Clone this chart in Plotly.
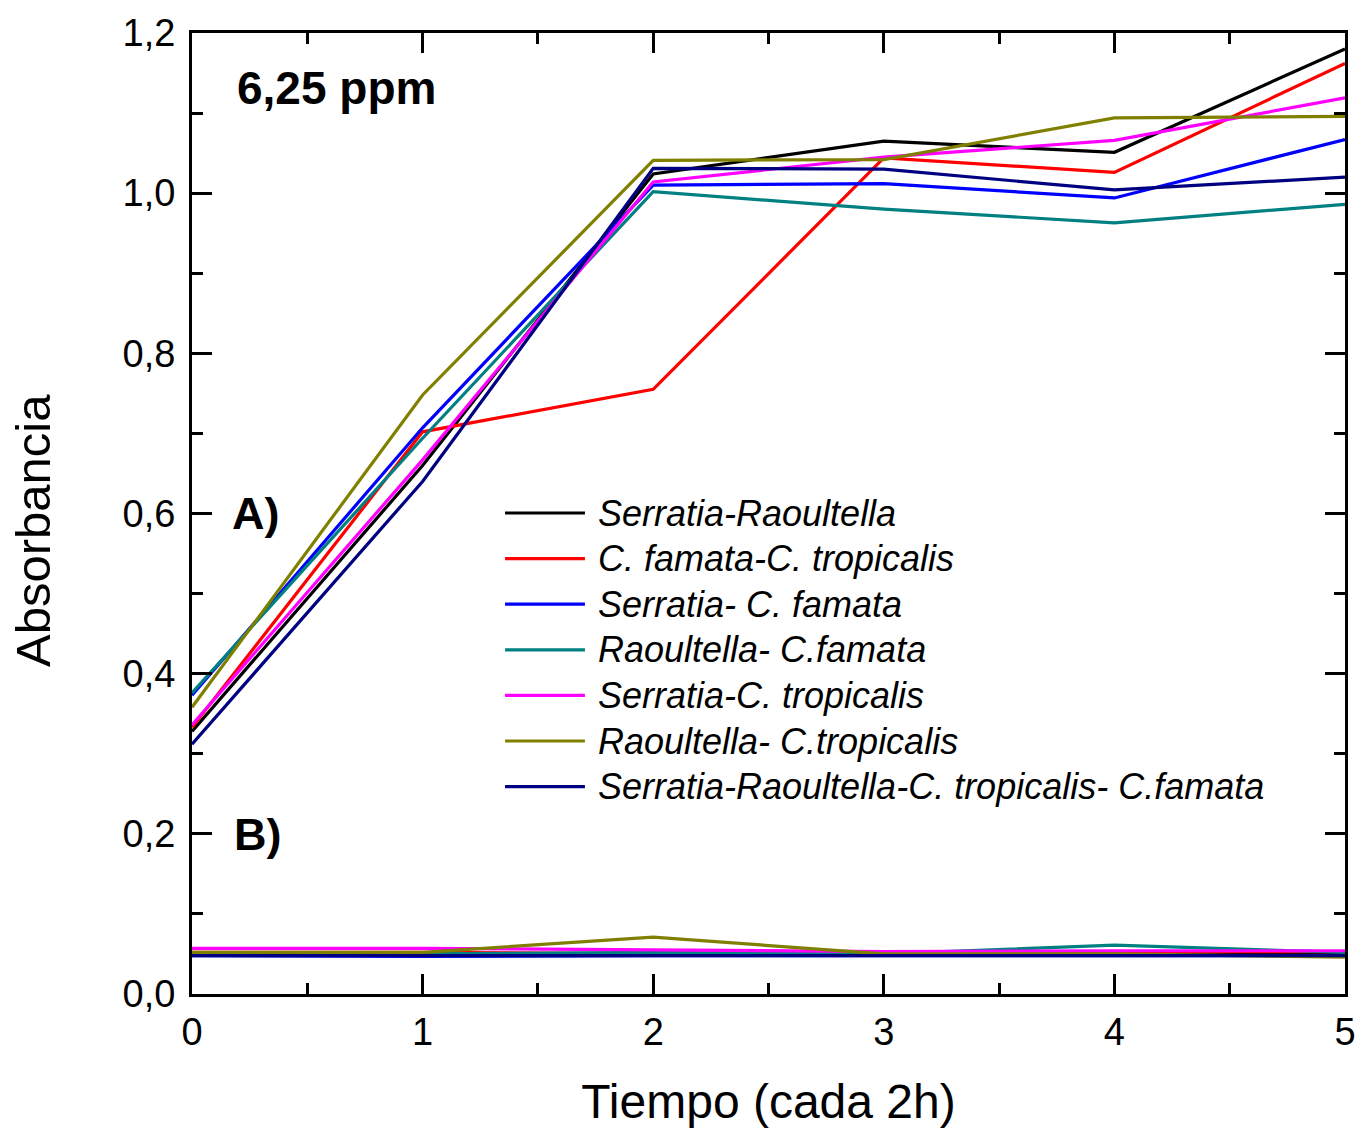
import plotly.graph_objects as go

# ---------------- data ----------------
tiempo = [0, 1, 2, 3, 4, 5]

series_names = [
    "Serratia-Raoultella",
    "C. famata-C. tropicalis",
    "Serratia- C. famata",
    "Raoultella- C.famata",
    "Serratia-C. tropicalis",
    "Raoultella- C.tropicalis",
    "Serratia-Raoultella-C. tropicalis- C.famata",
]
series_colors = ["#000000", "#FF0000", "#0000FF", "#008080", "#FF00FF", "#808000", "#000080"]

# A) curves
a_serr_raou = [0.328, 0.660, 1.024, 1.065, 1.051, 1.180]
a_cfam_ctro = [0.333, 0.702, 0.755, 1.044, 1.026, 1.162]
a_serr_cfam = [0.373, 0.707, 1.010, 1.012, 0.994, 1.067]
a_raou_cfam = [0.376, 0.694, 1.002, 0.980, 0.963, 0.986]
a_serr_ctro = [0.336, 0.667, 1.014, 1.045, 1.066, 1.119]
a_raou_ctro = [0.358, 0.748, 1.041, 1.042, 1.094, 1.096]
a_all = [0.312, 0.640, 1.031, 1.030, 1.004, 1.020]

# B) curves
b_serr_raou = [0.050, 0.050, 0.050, 0.050, 0.052, 0.050]
b_cfam_ctro = [0.052, 0.052, 0.050, 0.052, 0.053, 0.053]
b_serr_cfam = [0.048, 0.047, 0.048, 0.048, 0.048, 0.048]
b_raou_cfam = [0.050, 0.050, 0.052, 0.050, 0.061, 0.052]
b_serr_ctro = [0.057, 0.057, 0.055, 0.053, 0.054, 0.054]
b_raou_ctro = [0.052, 0.052, 0.071, 0.050, 0.050, 0.046]
b_all = [0.048, 0.048, 0.048, 0.048, 0.048, 0.048]

series_a = [a_serr_raou, a_cfam_ctro, a_serr_cfam, a_raou_cfam, a_serr_ctro, a_raou_ctro, a_all]
series_b = [b_serr_raou, b_cfam_ctro, b_serr_cfam, b_raou_cfam, b_serr_ctro, b_raou_ctro, b_all]

y_ticks = [0.0, 0.2, 0.4, 0.6, 0.8, 1.0, 1.2]
x_ticks = [0, 1, 2, 3, 4, 5]

# ---------------- figure ----------------
fig = go.Figure()
for name, col, ys in zip(series_names, series_colors, series_b):
    fig.add_trace(go.Scatter(x=tiempo, y=ys, mode="lines", name=name + " (B)",
                             line=dict(color=col, width=3.2), showlegend=False))
for name, col, ys in zip(series_names, series_colors, series_a):
    fig.add_trace(go.Scatter(x=tiempo, y=ys, mode="lines", name=name,
                             line=dict(color=col, width=3.2), showlegend=False))

FONT = "Liberation Sans, Arial, sans-serif"

# manual legend (line samples + italic labels)
leg_top = 0.5005
leg_step = 0.04745
for i, (name, col) in enumerate(zip(series_names, series_colors)):
    yy = leg_top - i * leg_step
    fig.add_shape(type="line", xref="paper", yref="paper",
                  x0=0.2715, x1=0.3408, y0=yy, y1=yy,
                  line=dict(color=col, width=3.2))
    fig.add_annotation(xref="paper", yref="paper", x=0.350, y=yy,
                       xanchor="left", yanchor="middle", showarrow=False,
                       text="<i>" + name + "</i>",
                       font=dict(family=FONT, size=36, color="black"))

fig.add_annotation(xref="paper", yref="paper", x=0.0373, y=0.943,
                   xanchor="left", yanchor="middle", showarrow=False,
                   text="<b>6,25 ppm</b>", font=dict(family=FONT, size=46, color="black"))
fig.add_annotation(xref="paper", yref="paper", x=0.033, y=0.5005,
                   xanchor="left", yanchor="middle", showarrow=False,
                   text="<b>A)</b>", font=dict(family=FONT, size=45, color="black"))
fig.add_annotation(xref="paper", yref="paper", x=0.0347, y=0.1655,
                   xanchor="left", yanchor="middle", showarrow=False,
                   text="<b>B)</b>", font=dict(family=FONT, size=45, color="black"))
# y-axis title (placed slightly below the axis centre, as in the reference)
fig.add_annotation(xref="paper", yref="paper", x=-0.1379, y=0.4818,
                   xanchor="center", yanchor="middle", showarrow=False, textangle=-90,
                   text="Absorbancia", font=dict(family=FONT, size=49, color="black"))

axis_common = dict(
    showline=True, linecolor="black", linewidth=3, mirror="ticks",
    ticks="inside", ticklen=20, tickwidth=3, tickcolor="black",
    showgrid=False, zeroline=False,
    tickfont=dict(family=FONT, size=38, color="black"),
)

fig.update_xaxes(
    range=[0, 5], tickvals=x_ticks, ticktext=[str(v) for v in x_ticks],
    minor=dict(ticks="inside", dtick=0.5, ticklen=11, tickwidth=3, tickcolor="black", showgrid=False),
    title=dict(text="Tiempo (cada 2h)", font=dict(family=FONT, size=48, color="black"), standoff=38),
    ticklabelstandoff=2,
    **axis_common,
)
fig.update_yaxes(
    range=[0, 1.2], tickvals=y_ticks, ticktext=[f"{v:.1f}".replace(".", ",") for v in y_ticks],
    minor=dict(ticks="inside", dtick=0.1, ticklen=11, tickwidth=3, tickcolor="black", showgrid=False),
    ticklabelstandoff=6,
    **axis_common,
)

fig.update_layout(
    width=1359, height=1128,
    margin=dict(l=192, r=14, t=33, b=134, autoexpand=False),
    plot_bgcolor="white", paper_bgcolor="white",
    showlegend=False,
)

# remove the default page margin so the figure fills the window exactly
fig.write_html("out.html",
               config={"displayModeBar": False},
               post_script="document.body.style.margin='0px';document.body.style.overflow='hidden';")
